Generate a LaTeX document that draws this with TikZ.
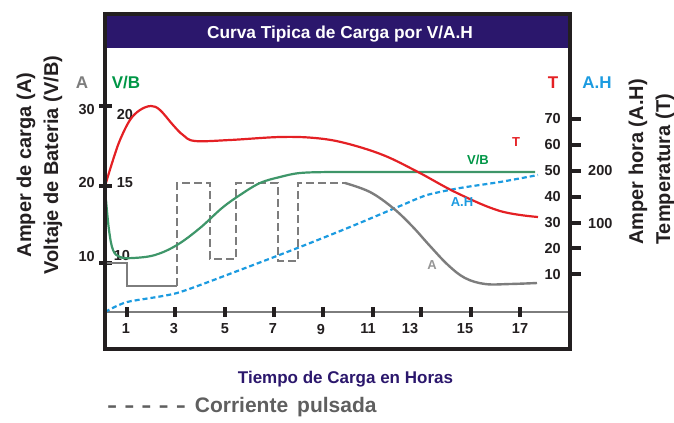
\documentclass[tikz,border=0pt]{standalone}
\usepackage{fontspec}
\setmainfont{Liberation Sans}
\definecolor{navy}{RGB}{43,23,108}
\definecolor{tred}{RGB}{228,32,36}
\definecolor{vgreen}{RGB}{62,150,105}
\definecolor{vglabel}{RGB}{0,150,70}
\definecolor{agray}{RGB}{125,125,125}
\definecolor{alabel}{RGB}{150,150,150}
\definecolor{pgray}{RGB}{95,95,95}
\definecolor{ahblue}{RGB}{28,155,224}
\definecolor{ink}{RGB}{35,31,32}
\tikzset{
  fs/.style={font=\bfseries\fontsize{#1bp}{#1bp}\selectfont},
  num/.style={fs=14.5, text=ink, inner sep=0pt},
  toplbl/.style={fs=17, inner sep=0pt},
  curvelbl/.style={fs=13, inner sep=0pt},
  axtitle/.style={fs=20, text=ink, inner sep=0pt, rotate=90},
  tickmark/.style={draw=ink, line width=3.5bp},
  frameline/.style={draw=ink, line width=3.5bp},
  redcurve/.style={draw=tred, line width=2.2bp},
  greencurve/.style={draw=vgreen, line width=2.2bp},
  graycurve/.style={draw=agray, line width=2.4bp},
  graydash/.style={draw=agray, line width=2.6bp, dash pattern=on 8bp off 4bp},
  bluecurve/.style={draw=ahblue, line width=2.2bp, dash pattern=on 5bp off 3bp},
}
\newcommand{\lgdash}{\scalebox{1.45}[1]{-}}
\begin{document}
\begin{tikzpicture}[x=1bp,y=-1bp]
\useasboundingbox (0,0) rectangle (674,422);
% title bar
\fill[navy] (107,16) rectangle (568,48);
\node[fs=17.3, text=white, inner sep=0pt, anchor=base] (title) at (340,38.5) {Curva Tipica de Carga por V/A.H};
% x axis line
\draw[agray, line width=1.6bp] (107,312) -- (568,312);
% x ticks and labels
\foreach \x/\lx/\t in {127/126/1,175/174/3,225/225/5,274/273/7,323/321/9,373/368/11,421/410/13,471/465/15,520/520/17}{
  \draw[tickmark, line width=3.2bp] (\x,307) -- (\x,317);
  \node[num] (xl\t) at (\lx,329) {\t};
}
% left ticks
\foreach \y in {106,186,263}{ \draw[tickmark] (99,\y) -- (112,\y); }
\node[num, anchor=east] (l30) at (95,110) {30};
\node[num, anchor=east] (l20) at (95,183) {20};
\node[num, anchor=east] (l10) at (95,256) {10};
\node[num] (v20) at (125,115) {20};
\node[num] (v15) at (125,183) {15};
\node[num] (v10) at (122,255) {10};
% right ticks
\foreach \y/\v in {119/70,145/60,171/50,197/40,223/30,248/20,274/10}{
  \draw[tickmark] (570,\y) -- (581,\y);
  \node[num, anchor=east] (r\v) at (561,\y) {\v};
}
\node[num, anchor=west] (ah200) at (588,171) {200};
\node[num, anchor=west] (ah100) at (588,223) {100};
% top labels
\node[toplbl, text=agray] (topA) at (82,83) {A};
\node[toplbl, text=vglabel] (topVB) at (126,83) {V/B};
\node[toplbl, text=tred] (topT) at (553,83) {T};
\node[toplbl, text=ahblue] (topAH) at (597,83) {A.H};
% axis titles
\node[axtitle, anchor=base] (ya1) at (31,165) {Amper de carga (A)};
\node[axtitle, anchor=base] (ya2) at (58,165) {Voltaje de Bateria (V/B)};
\node[axtitle, anchor=base west] (yb1) at (643,245) {Amper hora (A.H)};
\node[axtitle, anchor=base west] (yb2) at (670,245) {Temperatura (T)};
% bottom texts
\node[fs=17, text=navy, inner sep=0pt, anchor=base] (xtitle) at (345.5,383) {Tiempo de Carga en Horas};
\node[fs=21, text=pgray, inner sep=0pt, anchor=base west] (legend) at (107,412) {\lgdash\hspace{7bp}\lgdash\hspace{7bp}\lgdash\hspace{7bp}\lgdash\hspace{7bp}\lgdash\hspace{9bp}Corriente\hspace{9bp}pulsada};
% blue A.H curve
\draw[bluecurve] plot[smooth, tension=0.4] coordinates {(105,312) (127,302) (177,293) (240,270) (300,247) (350,227) (400,206) (427,195) (460,188) (500,182) (538,175)};
% gray A curve
\draw[graycurve, line join=miter] (105,263) -- (127,263) -- (127,286) -- (177,286);
\draw[graydash] (177,286) -- (177,183) -- (210,183) -- (210,259) -- (236,259) -- (236,183) -- (278,183) -- (278,261) -- (298,261) -- (298,183) -- (345,183);
\draw[graycurve] plot[smooth, tension=0.6] coordinates {(345,183) (370,192) (393,208) (412,226) (430,246) (448,265) (465,278) (485,284) (510,284) (537,283)};
% green V/B curve
\draw[greencurve] plot[smooth, tension=0.6] coordinates {(106,200) (109,230) (113,250) (120,257) (133,258) (155,255) (177,245) (200,228) (222,208) (240,195) (260,183) (280,177) (300,173) (330,172) (350,172)} -- (535,172);
% red T curve
\draw[redcurve] plot[smooth, tension=0.6] coordinates {(105,186) (113,160) (120,140) (130,120) (140,110) (151,106) (160,110) (173,125) (183,135) (195,141) (230,140) (280,137) (315,138) (345,143) (383,155) (418,172) (457,193) (500,211) (538,217)};
% curve labels
\node[curvelbl, text=tred] (lT) at (516,142) {T};
\node[curvelbl, text=vglabel] (lVB) at (478,160) {V/B};
\node[curvelbl, text=ahblue] (lAH) at (462,202) {A.H};
\node[curvelbl, text=alabel] (lA) at (432,265) {A};
% frame
\draw[frameline] (105,14) rectangle (570,349);
\end{tikzpicture}
\end{document}
